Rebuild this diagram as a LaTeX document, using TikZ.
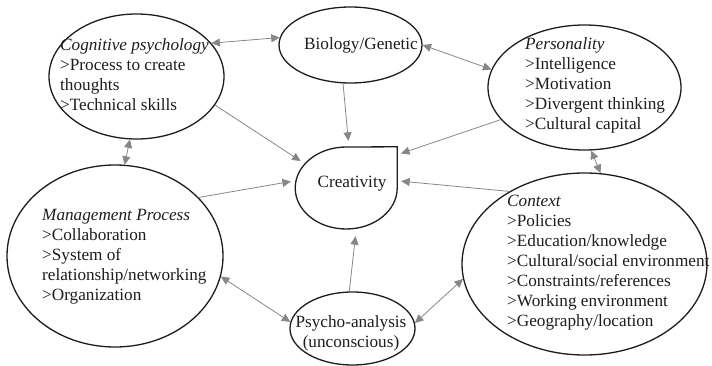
\documentclass[tikz,border=0pt]{standalone}
\usepackage{fontspec}
\setmainfont{Liberation Serif}
\usetikzlibrary{calc, arrows.meta, shapes.geometric}

\definecolor{linegray}{RGB}{135,135,138}
\definecolor{inkblack}{RGB}{30,28,30}

\begin{document}
\begin{tikzpicture}[x=1pt, y=-1pt,
        blob/.style={draw=inkblack, line width=1.3pt, ellipse, inner sep=0pt},
        txt/.style={align=left, inner sep=0pt, text=inkblack, font=\fontsize{17.2}{20}\selectfont},
        link/.style={draw=linegray, line width=0.8pt, {Triangle[length=8.5pt,width=8pt]}-{Triangle[length=8.5pt,width=8pt]}},
        feed/.style={draw=linegray, line width=0.8pt, -{Triangle[length=8.5pt,width=8pt]}}]
        \useasboundingbox (0,0) rectangle (712,366);
        % the six ellipses
        \node[blob, minimum width=175pt, minimum height=125pt] (cog) at (136.5,76.5) {};
        \node[blob, minimum width=143pt, minimum height=76pt] (bio) at (350.5,45) {};
        \node[blob, minimum width=193pt, minimum height=125pt] (pers) at (584.5,87.5) {};
        \node[blob, minimum width=216pt, minimum height=182pt] (mgmt) at (115,256) {};
        \node[blob, minimum width=125pt, minimum height=73pt] (psy) at (352.5,328.5) {};
        \node[blob, minimum width=245pt, minimum height=182pt] (ctx) at (584.5,264) {};
        % creativity drop
        \node[minimum width=102pt, minimum height=82pt, inner sep=0pt] (crea) at (346,188) {};
        \draw[draw=inkblack, line width=1.3pt] (crea.north east) -- (crea.east)
            arc[start angle=0, end angle=-270, x radius=51pt, y radius=41pt] -- cycle;
        % texts
        \node[txt, anchor=west] (cogtxt) at (60,75) {\textit{Cognitive psychology}\\>Process to create\\thoughts\\>Technical skills};
        \node[txt] (biotxt) at (361,45) {Biology/Genetic};
        \node[txt, anchor=west] (perstxt) at (525,85) {\textit{Personality}\\>Intelligence\\>Motivation\\>Divergent thinking\\>Cultural capital};
        \node[txt, anchor=west] (mgmttxt) at (42,257) {\textit{Management Process}\\>Collaboration\\>System of\\relationship/networking\\>Organization};
        \node[txt, anchor=west] (ctxtxt) at (507,263) {\textit{Context}\\>Policies\\>Education/knowledge\\>Cultural/social environment\\>Constraints/references\\>Working environment\\>Geography/location};
        \node[txt, align=center] (psytxt) at (351,333) {Psycho-analysis\\(unconscious)};
        \node[txt] (creatxt) at (352,184) {Creativity};
        % two-way links
        \draw[link] (cog.24) -- (bio.174);
        \draw[link] (bio.0) -- (pers.169);
        \draw[link] (cog.-96) -- (mgmt.84);
        \draw[link] (pers.-84) -- (ctx.80);
        \draw[link] (mgmt.-11) -- (psy.174);
        \draw[link] (psy.5) -- (ctx.-173);
        % into creativity
        \draw[feed, shorten >=-7pt] (cog.-20) -- (crea.149);
        \draw[feed, shorten >=6pt] (bio.-101) -- (crea.86);
        \draw[feed, shorten >=4pt] (pers.-159) -- (crea.33);
        \draw[feed, shorten >=4pt] (mgmt.35) -- (crea.172);
        \draw[feed, shorten >=4pt] (ctx.136) -- (crea.8);
        \draw[feed, shorten >=7pt] (psy.95) -- (crea.-76);
\end{tikzpicture}
\end{document}
